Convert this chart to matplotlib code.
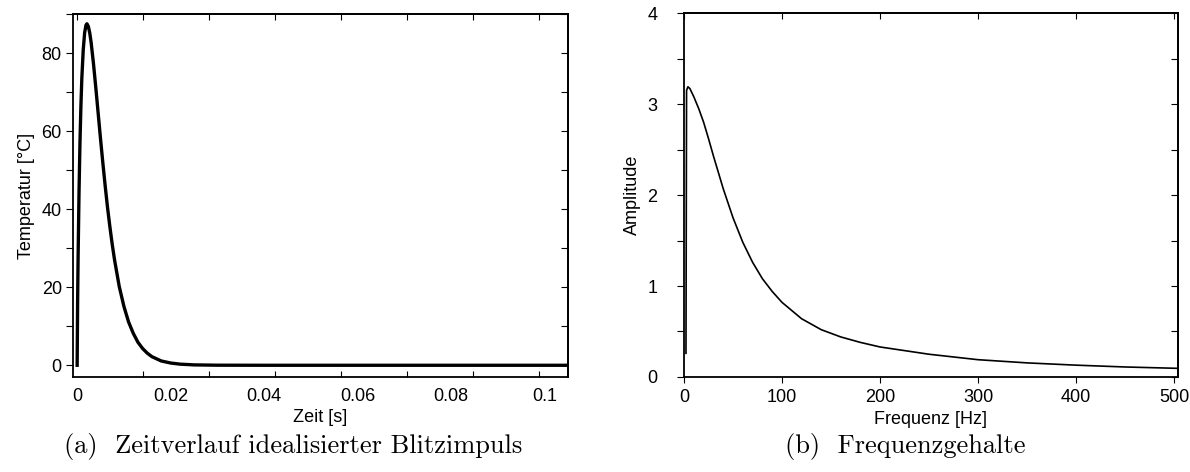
import matplotlib.pyplot as plt
from matplotlib.ticker import MultipleLocator, FixedLocator, NullFormatter

# Zeitverlauf (a): Zeit [s] und Temperatur [°C]
zeit = [0, 0.0001, 0.0002, 0.0004, 0.0006, 0.0008, 0.001, 0.0013, 0.0016,
        0.0019, 0.0021, 0.0024, 0.0027, 0.003, 0.0035, 0.004, 0.0045, 0.005,
        0.0055, 0.006, 0.0065, 0.007, 0.0075, 0.008, 0.009, 0.01, 0.011,
        0.012, 0.013, 0.014, 0.015, 0.016, 0.018, 0.02, 0.022, 0.025, 0.03,
        0.04, 0.06, 0.08, 0.105]
temperatur = [0, 16.4, 27.5, 44.4, 56.9, 66.3, 73.5, 80.8, 85.2,
              87.2, 87.5, 86.8, 85.1, 82.6, 77.2, 71.0, 64.5, 58.0,
              51.8, 45.9, 40.4, 35.5, 31.0, 27.0, 20.2, 15.1, 11.1,
              8.2, 5.9, 4.3, 3.1, 2.2, 1.1, 0.58, 0.29, 0.1, 0.02,
              0, 0, 0, 0]

# Frequenzgehalte (b): Frequenz [Hz] und Amplitude
frequenz = [2, 2.6, 4, 6, 10, 15, 20, 25, 30, 35, 40, 50, 60, 70, 80, 90,
            100, 120, 140, 160, 180, 200, 250, 300, 350, 400, 450, 504]
amplitude = [0.26, 3.15, 3.19, 3.17, 3.08, 2.95, 2.80, 2.62, 2.43, 2.25,
             2.07, 1.75, 1.48, 1.26, 1.08, 0.94, 0.82, 0.64, 0.52, 0.44,
             0.38, 0.33, 0.25, 0.19, 0.155, 0.13, 0.11, 0.095]

zeit_ticks = [0, 0.02, 0.04, 0.06, 0.08, 0.1]
zeit_ticklabels = ['0', '0.02', '0.04', '0.06', '0.08', '0.1']

plt.rcParams['font.family'] = ['Liberation Sans', 'DejaVu Sans']

fig = plt.figure(figsize=(11.9, 4.72), dpi=100)

# ---- (a) Zeitverlauf ----
ax1 = fig.add_axes([0.0613, 0.2013, 0.416, 0.769])
ax1.plot(zeit, temperatur, color='black', lw=2.4)
ax1.set_xlim(-0.0009, 0.105)
ax1.set_ylim(-3, 90)
ax1.set_xticks(zeit_ticks)
ax1.set_xticklabels(zeit_ticklabels)
# tick marks sit on their own spacing in the original
ax1.xaxis.set_minor_locator(FixedLocator([k * 0.0141 for k in range(8)]))
ax1.tick_params(axis='x', which='major', length=0, pad=8, labelsize=13)
ax1.tick_params(axis='x', which='minor', direction='in', length=4, width=0.8)
ax1.set_yticks([0, 20, 40, 60, 80])
ax1.yaxis.set_minor_locator(MultipleLocator(10))
ax1.tick_params(axis='y', which='both', direction='out', length=5, width=0.8,
                labelsize=13, pad=3)
top1 = ax1.secondary_xaxis('top')
top1.set_xticks([])
top1.xaxis.set_minor_locator(FixedLocator([k * 0.0141 for k in range(8)]))
top1.tick_params(which='minor', direction='in', length=4, width=0.8)
right1 = ax1.secondary_yaxis('right')
right1.set_yticks(range(0, 91, 10))
right1.yaxis.set_major_formatter(NullFormatter())
right1.tick_params(direction='in', length=5, width=0.8)
ax1.set_xlabel('Zeit [s]', fontsize=13, labelpad=3)
ax1.set_ylabel('Temperatur [°C]', fontsize=13, labelpad=5)

# ---- (b) Frequenzgehalte ----
ax2 = fig.add_axes([0.5748, 0.2013, 0.4151, 0.771])
ax2.plot(frequenz, amplitude, color='black', lw=1.2)
ax2.set_xlim(0, 504)
ax2.set_ylim(0, 4)
ax2.xaxis.set_major_locator(MultipleLocator(100))
ax2.yaxis.set_major_locator(MultipleLocator(1))
ax2.yaxis.set_minor_locator(MultipleLocator(0.5))
ax2.tick_params(axis='x', direction='out', length=4, width=0.8,
                labelsize=13, pad=5)
ax2.tick_params(axis='y', which='both', direction='out', length=5, width=0.8,
                labelsize=13, pad=14)
top2 = ax2.secondary_xaxis('top')
top2.xaxis.set_major_locator(MultipleLocator(100))
top2.xaxis.set_major_formatter(NullFormatter())
top2.tick_params(direction='in', length=4, width=0.8)
right2 = ax2.secondary_yaxis('right')
right2.yaxis.set_major_locator(MultipleLocator(0.5))
right2.yaxis.set_major_formatter(NullFormatter())
right2.tick_params(direction='in', length=5, width=0.8)
ax2.set_xlabel('Frequenz [Hz]', fontsize=13, labelpad=3)
ax2.set_ylabel('Amplitude', fontsize=13, labelpad=5)

for ax in (ax1, ax2, top1, right1, top2, right2):
    for sp in ax.spines.values():
        sp.set_linewidth(1.3)

# Unterschriften
fig.text(0.246, 0.053, '(a)  Zeitverlauf idealisierter Blitzimpuls',
         ha='center', va='center', fontsize=19, family='cmr10')
fig.text(0.761, 0.053, '(b)  Frequenzgehalte',
         ha='center', va='center', fontsize=19, family='cmr10')

fig.savefig('out.png', dpi=100)
